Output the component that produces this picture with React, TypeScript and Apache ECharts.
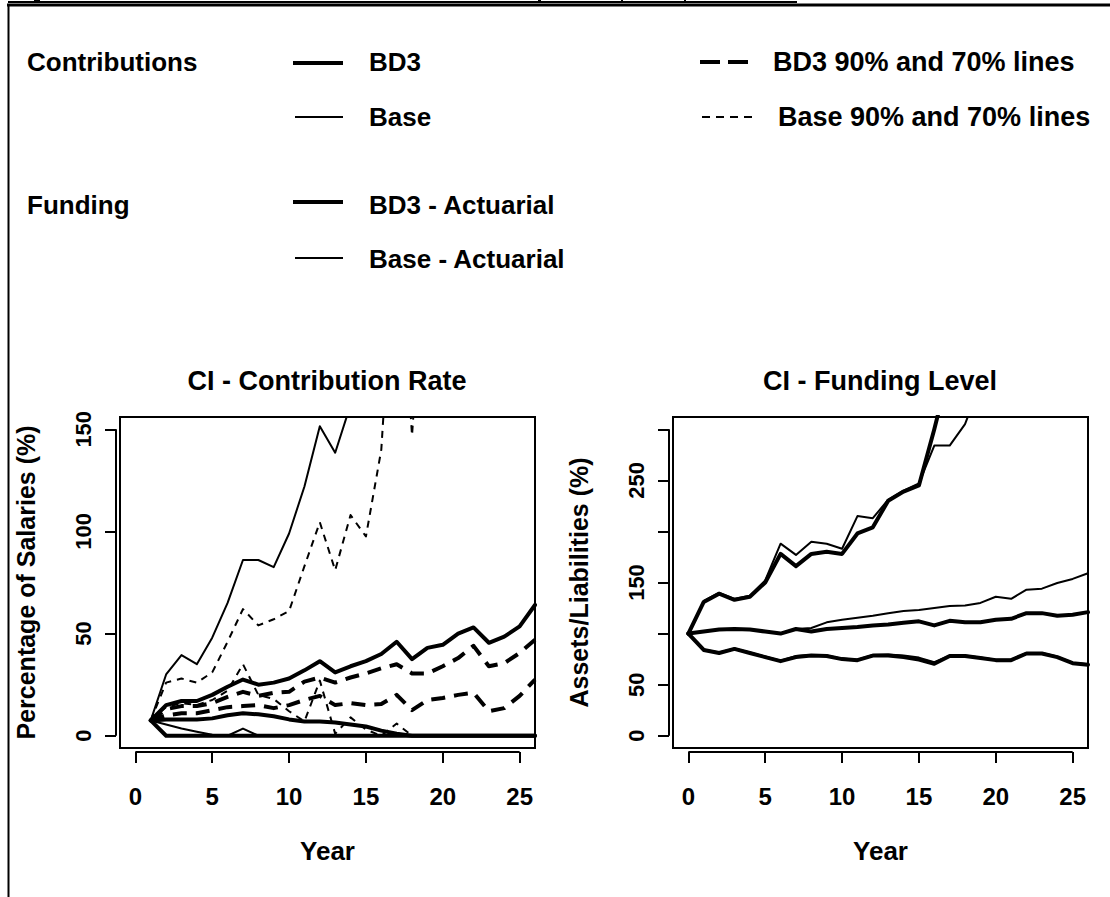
import React, { useEffect, useRef } from "react";
import * as echarts from "echarts";

const FONT_FAMILY = '"Liberation Sans", Arial, Helvetica, sans-serif';

// ---- Contribution rate (% of salaries), projection years 1..26 ----
const contribYears = [1, 2, 3, 4, 5, 6, 7, 8, 9, 10, 11, 12, 13, 14, 15, 16, 17, 18, 19, 20, 21, 22, 23, 24, 25, 26];

const bd3ContribUpper = [7.5, 15, 17, 17, 20, 24, 27.5, 25, 26, 28, 32, 36.5, 31, 34, 36.5, 40, 46, 37.5, 43, 44.5, 50, 53, 45.5, 48.5, 53.5, 64];
const bd3Contrib90 = [7.5, 13, 14.5, 14.5, 16, 19, 21.5, 19.5, 21, 21.5, 26.5, 28.5, 26, 28.5, 30.5, 33, 35, 30.5, 30.5, 34, 38, 44, 34, 35.5, 40.5, 47];
const bd3Contrib70 = [7.5, 10, 11, 11, 12.5, 14, 14.5, 15, 13.5, 15, 17.5, 19.5, 15, 16, 15, 15.5, 20, 12.5, 17.5, 18.5, 20, 21, 12, 13.5, 19.5, 27.5];
const bd3ContribLower = [7.5, 8, 8, 8, 8.5, 10, 11, 10.5, 9.5, 8, 7, 7, 6.5, 5.5, 4.5, 2.5, 1, 0, 0, 0, 0, 0, 0, 0, 0, 0];
const bd3ContribFloor = [7.5, 0, 0, 0, 0, 0, 0, 0, 0, 0, 0, 0, 0, 0, 0, 0, 0, 0, 0, 0, 0, 0, 0, 0, 0, 0];

const baseContribUpper = [7.5, 30, 39.5, 35, 48, 65, 86, 86, 82.5, 99, 122, 151.5, 138.5, 162];
const baseContrib90 = [7.5, 26, 28, 26, 31, 46, 62, 54, 57, 61, 83, 104.5, 81, 108, 97.5, 140, 260, 147, 260];
const baseContrib70 = [7.5, 14, 16, 15, 17.5, 22, 35, 20, 18, 12, 7, 27, 1, 9, 3, 0, 6, 0, 0, 0, 0, 0, 0, 0, 0, 0];
const baseContribLower = [7.5, 5.5, 3.5, 2, 0.5, 0, 3.5, 0, 0, 0, 0, 0, 0, 0, 0, 0, 0, 0, 0, 0, 0, 0, 0, 0, 0, 0];

// ---- Funding level (assets / liabilities, %), years 0..26 ----
const fundYears = [0, 1, 2, 3, 4, 5, 6, 7, 8, 9, 10, 11, 12, 13, 14, 15, 16, 17, 18, 19, 20, 21, 22, 23, 24, 25, 26];

const bd3FundHigh = [100, 131, 139, 133, 136, 150, 178, 166, 178, 180, 178, 198, 204, 230, 239, 245, 300, 360];
const bd3FundMid = [100, 102, 104, 104.5, 104, 102, 100, 104.5, 102, 104.5, 105.5, 106.5, 108, 109, 110.5, 112, 108, 112.5, 111, 111, 113.5, 114.5, 120, 120, 117.5, 118.5, 121];
const bd3FundLow = [100, 84, 81, 85, 81, 77, 73, 77, 78.5, 78, 75, 74, 78.5, 78.5, 77, 74.5, 70.5, 78, 78, 76, 74, 74, 80.5, 80.5, 77, 71, 69.5];

const baseFundHigh = [100, 132, 140, 134, 137, 152, 188, 177, 190, 188, 183, 215, 213, 231, 240, 247, 284, 284, 305, 345];
const baseFundMid = [100, 102, 104, 104.5, 104, 102, 100, 104.5, 105.5, 111, 113.5, 115.5, 117.5, 120, 122, 123, 125, 127, 127.5, 130, 136, 134, 143, 144, 149.5, 153.5, 159];
const baseFundLow = [100, 84.5, 81.5, 85.5, 81.5, 77.5, 73.5, 78, 79, 78.5, 75.5, 74.5, 79, 79.5, 78.5, 76.5, 72, 78.5, 78.5, 76.5, 74.5, 74.5, 81, 81, 77.5, 71.5, 70];

// ---- Axis ticks ----
const yearTicks = [0, 5, 10, 15, 20, 25];
const contribTicks = [0, 50, 100, 150];
const fundTicks = [0, 50, 100, 150, 200, 250, 300];
const fundTickLabels = [0, 50, 150, 250];

const THICK = 4;
const THIN = 2;
const LONG_DASH = [14, 9];
const SHORT_DASH = [7, 6];

const pairs = (xs: number[], ys: number[]) => ys.map((v, i) => [xs[i], v]);

function lineSeries(grid: number, xs: number[], ys: number[], width: number, dash?: number[]) {
  return {
    type: "line",
    xAxisIndex: grid,
    yAxisIndex: grid,
    data: pairs(xs, ys),
    symbol: "none",
    showSymbol: false,
    silent: true,
    clip: true,
    lineStyle: {
      color: "#000",
      width,
      type: dash ? dash : "solid",
      join: "round",
      cap: dash ? "butt" : "round",
    },
  };
}

const labelFont = { color: "#000", fontWeight: "bold", fontFamily: FONT_FAMILY };

function xAxisFor(grid: number) {
  return {
    type: "value",
    gridIndex: grid,
    min: -1,
    max: 26,
    offset: 4,
    axisLine: { show: false, onZero: false },
    axisTick: { show: true, length: 11, customValues: yearTicks, lineStyle: { color: "#000", width: 2 } },
    axisLabel: { customValues: yearTicks, margin: 32, fontSize: 24, ...labelFont },
    splitLine: { show: false },
    name: "Year",
    nameLocation: "middle",
    nameGap: 86,
    nameTextStyle: { fontSize: 26, ...labelFont },
  };
}

function yAxisFor(grid: number, min: number, max: number, ticks: number[], labels: number[], name: string) {
  return {
    type: "value",
    gridIndex: grid,
    min,
    max,
    offset: 4,
    axisLine: { show: false, onZero: false },
    axisTick: { show: true, length: 11, customValues: ticks, lineStyle: { color: "#000", width: 2 } },
    axisLabel: { customValues: labels, rotate: 90, margin: 22, fontSize: 22, ...labelFont },
    splitLine: { show: false },
    name,
    nameLocation: "middle",
    nameRotate: 90,
    nameGap: 78,
    nameTextStyle: { fontSize: 25, ...labelFont },
  };
}

const gridBox = {
  top: 417,
  width: 415,
  height: 331,
  show: true,
  borderColor: "#000",
  borderWidth: 2,
  backgroundColor: "transparent",
  containLabel: false,
  outerBoundsMode: "none",
};

function buildOption() {
  return {
    animation: false,
    backgroundColor: "#fff",
    grid: [
      { ...gridBox, left: 120 },
      { ...gridBox, left: 673 },
    ],
    xAxis: [xAxisFor(0), xAxisFor(1)],
    yAxis: [
      yAxisFor(0, -6, 156, contribTicks, contribTicks, "Percentage of Salaries (%)"),
      yAxisFor(1, -12, 312, fundTicks, fundTickLabels, "Assets/Liabilities (%)"),
    ],
    series: [
      // Contribution rate
      lineSeries(0, contribYears, bd3ContribFloor, THICK),
      lineSeries(0, contribYears, bd3ContribLower, THICK),
      lineSeries(0, contribYears, bd3ContribUpper, THICK),
      lineSeries(0, contribYears, bd3Contrib90, THICK, LONG_DASH),
      lineSeries(0, contribYears, bd3Contrib70, THICK, LONG_DASH),
      lineSeries(0, contribYears, baseContribLower, THIN),
      lineSeries(0, contribYears, baseContribUpper, THIN),
      lineSeries(0, contribYears, baseContrib90, THIN, SHORT_DASH),
      lineSeries(0, contribYears, baseContrib70, THIN, SHORT_DASH),
      // Funding level
      lineSeries(1, fundYears, bd3FundHigh, THICK),
      lineSeries(1, fundYears, bd3FundMid, THICK),
      lineSeries(1, fundYears, bd3FundLow, THICK),
      lineSeries(1, fundYears, baseFundHigh, THIN),
      lineSeries(1, fundYears, baseFundMid, THIN),
      lineSeries(1, fundYears, baseFundLow, THIN),
    ],
  };
}

function text(x: number, y: number, str: string, size: number, align = "left") {
  return {
    type: "text",
    x,
    y,
    silent: true,
    style: {
      text: str,
      fill: "#000",
      fontSize: size,
      fontWeight: "bold",
      fontFamily: FONT_FAMILY,
      align,
      verticalAlign: "middle",
    },
  };
}

function seg(x1: number, y1: number, x2: number, y2: number, width: number, dash?: number[]) {
  return {
    type: "line",
    silent: true,
    shape: { x1, y1, x2, y2 },
    style: { stroke: "#000", lineWidth: width, lineDash: dash || null },
  };
}

function buildGraphics(chart: echarts.ECharts) {
  const px = (g: number, x: number, y: number) => chart.convertToPixel({ gridIndex: g }, [x, y]) as number[];

  // R-style axis lines: span first to last tick, set just outside the plot box
  const axisLines: any[] = [];
  const axes = [
    { g: 0, yMin: -6, yTop: 150 },
    { g: 1, yMin: -12, yTop: 300 },
  ];
  axes.forEach(({ g, yMin, yTop }) => {
    const a = px(g, 0, yMin);
    const b = px(g, 25, yMin);
    axisLines.push(seg(a[0], a[1] + 4, b[0], b[1] + 4, 2));
    const c = px(g, -1, 0);
    const d = px(g, -1, yTop);
    axisLines.push(seg(c[0] - 4, c[1], d[0] - 4, d[1], 2));
  });

  const legend = [
    text(27, 62, "Contributions", 26),
    seg(293, 63, 343, 63, THICK),
    text(369, 62, "BD3", 26),
    seg(295, 117, 343, 117, THIN),
    text(369, 117, "Base", 26),
    seg(700, 62, 748, 62, THICK, [20, 8]),
    text(773, 62, "BD3 90% and 70% lines", 27),
    seg(702, 117, 752, 117, THIN, [8, 6]),
    text(778, 117, "Base 90% and 70% lines", 27),
    text(27, 205, "Funding", 26),
    seg(293, 202, 343, 202, THICK),
    text(369, 205, "BD3 - Actuarial", 26),
    seg(295, 258, 343, 258, THIN),
    text(369, 259, "Base - Actuarial", 26),
  ];

  const titles = [
    text(327, 381, "CI - Contribution Rate", 27, "center"),
    text(880, 381, "CI - Funding Level", 27, "center"),
  ];

  // page frame and the edge of the caption above it
  const frame = [
    seg(8, 2, 797, 2, 2),
    seg(7, 5, 1110, 5, 3),
    seg(8.5, 4, 8.5, 897, 2),
    { type: "rect", silent: true, shape: { x: 34, y: 0, width: 6, height: 2 }, style: { fill: "#000" } },
    { type: "rect", silent: true, shape: { x: 538, y: 0, width: 3, height: 3 }, style: { fill: "#000" } },
    { type: "rect", silent: true, shape: { x: 621, y: 0, width: 2, height: 2 }, style: { fill: "#000" } },
    { type: "rect", silent: true, shape: { x: 684, y: 0, width: 2, height: 2 }, style: { fill: "#000" } },
  ];

  return [...frame, ...legend, ...titles, ...axisLines];
}

export default function App() {
  const ref = useRef<HTMLDivElement>(null);

  useEffect(() => {
    if (!ref.current) return;
    const chart = echarts.init(ref.current, undefined, { renderer: "svg", width: 1110, height: 897 });
    chart.setOption(buildOption() as any);
    chart.setOption({ graphic: buildGraphics(chart) } as any);
    return () => {
      chart.dispose();
    };
  }, []);

  return (
    <div
      ref={ref}
      style={{ position: "absolute", left: 0, top: 0, width: 1110, height: 897, background: "#fff" }}
    />
  );
}
